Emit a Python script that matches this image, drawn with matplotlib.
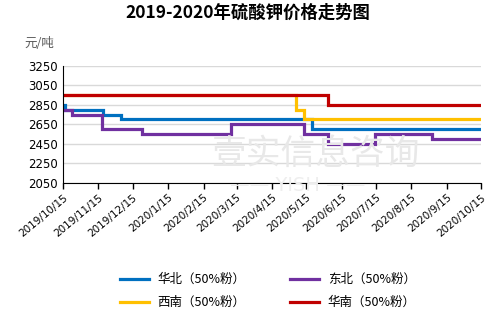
import matplotlib
matplotlib.use("Agg")
import matplotlib.pyplot as plt
import pandas as pd

plt.rcParams['font.family'] = ['Noto Sans CJK SC', 'DejaVu Sans']

# Series: change dates and prices (yuan/ton), step-wise
north_dates = ["2019-10-15", "2019-10-17", "2019-11-19", "2019-12-05", "2020-05-20", "2020-10-15"]
north_vals = [2850, 2800, 2750, 2700, 2600, 2600]

northeast_dates = ["2019-10-15", "2019-10-23", "2019-11-18", "2019-12-23", "2020-03-10",
                   "2020-05-13", "2020-06-03", "2020-07-14", "2020-09-02", "2020-10-15"]
northeast_vals = [2800, 2750, 2600, 2550, 2650, 2550, 2450, 2550, 2500, 2500]

southwest_dates = ["2019-10-15", "2020-05-06", "2020-05-13", "2020-10-15"]
southwest_vals = [2950, 2800, 2700, 2700]

south_dates = ["2019-10-15", "2020-06-03", "2020-10-15"]
south_vals = [2950, 2850, 2850]

labels = ["华北（50%粉）", "东北（50%粉）", "西南（50%粉）", "华南（50%粉）"]
colors = ["#0070C0", "#7030A0", "#FFC000", "#C00000"]

yticks = [2050, 2250, 2450, 2650, 2850, 3050, 3250]
xtick_dates = pd.date_range("2019-10-15", "2020-10-15", freq=pd.DateOffset(months=1))

fig = plt.figure(figsize=(4.96, 3.29), dpi=100)
ax = fig.add_axes([0.127, 0.4447, 0.843, 0.3547])

lw = 2.3
series = [(north_dates, north_vals), (northeast_dates, northeast_vals),
          (southwest_dates, southwest_vals), (south_dates, south_vals)]
handles = []
for (d, v), lab, c in zip(series, labels, colors):
    h, = ax.plot(pd.to_datetime(d), v, drawstyle='steps-post', color=c, lw=lw,
                 label=lab, solid_joinstyle='miter')
    handles.append(h)

ax.set_xlim(pd.Timestamp("2019-10-15"), pd.Timestamp("2020-10-15"))
ax.set_ylim(2050, 3250)
ax.set_yticks(yticks)
ax.set_yticklabels([str(t) for t in yticks], fontsize=8.5, family=['DejaVu Sans'])
ax.set_xticks(xtick_dates)
ax.set_xticklabels([f"{d.year}/{d.month}/{d.day}" for d in xtick_dates],
                   rotation=40, ha='right', rotation_mode='anchor', fontsize=7.5,
                   family=['DejaVu Sans'])
ax.tick_params(axis='y', length=0, pad=4)
ax.tick_params(axis='x', length=4, direction='out', width=1, pad=3)
ax.grid(axis='y', color='#d9d9d9', lw=1)
ax.set_axisbelow(True)
for s in ['top', 'right']:
    ax.spines[s].set_visible(False)
ax.spines['left'].set_color('black')
ax.spines['bottom'].set_color('black')

# watermark
fig.text(0.635, 0.53, "壹实信息咨询", fontsize=25, color='#e8e8e8', ha='center', va='center', zorder=0)
fig.text(0.60, 0.435, "—— YISH ——", fontsize=14, color='#eeeeee', ha='center', va='center',
         zorder=0, family=['DejaVu Sans'])

fig.text(0.5, 0.962, "2019-2020年硫酸钾价格走势图", fontsize=12.5, fontweight='bold',
         ha='center', va='center')
fig.text(0.05, 0.868, "元/吨", fontsize=9, color='#595959', ha='left', va='center')

order = [0, 2, 1, 3]
leg = fig.legend([handles[i] for i in order], [labels[i] for i in order],
                 ncol=2, loc='center', bbox_to_anchor=(0.54, 0.115), frameon=False,
                 fontsize=9, handlelength=2.3, handletextpad=0.7, columnspacing=3.6,
                 labelspacing=0.8)

fig.savefig("out.png", dpi=100)
